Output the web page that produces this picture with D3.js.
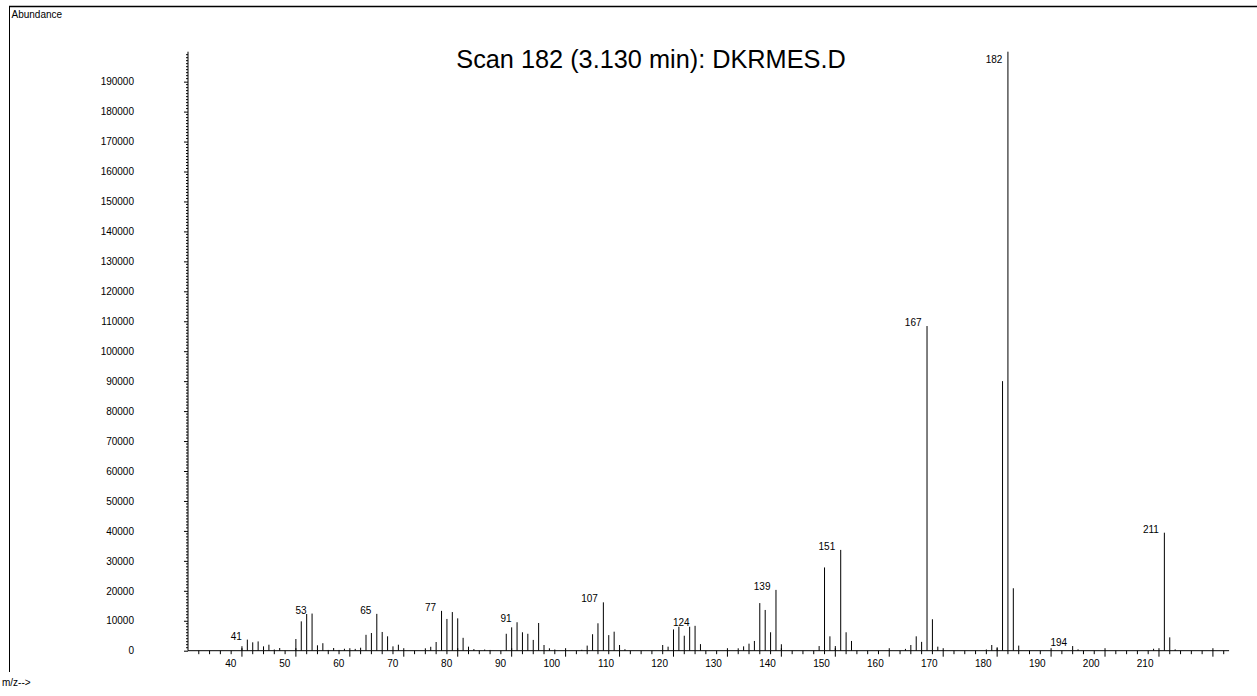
<!DOCTYPE html>
<html>
<head>
<meta charset="utf-8">
<script src="https://cdn.jsdelivr.net/npm/d3@7"></script>
<style>
  html, body { margin: 0; padding: 0; background: #fff; }
  svg { display: block; }
  text { font-family: Arial, "Liberation Sans", sans-serif; fill: #000; }
</style>
</head>
<body>
<svg id="chart" width="1257" height="696"></svg>
<script>
// Mass spectrum, scan 182 (3.130 min) of DKRMES.D
const mz = [40, 41, 42, 43, 44, 45, 46, 47, 50, 51, 52, 53, 54, 55, 56, 57, 58, 59, 61, 62,
  63, 64, 65, 66, 67, 68, 69, 74, 75, 76, 77, 78, 79, 80, 81, 82, 83, 85, 86,
  89, 90, 91, 92, 93, 94, 95, 96, 97, 98, 103, 104, 105, 106, 107, 108, 109, 110, 111,
  118, 119, 120, 121, 122, 123, 124, 125, 132, 133, 134, 135, 136, 137, 138, 139, 140,
  147, 148, 149, 150, 151, 152, 153, 163, 164, 165, 166, 167, 168, 169,
  178, 179, 180, 181, 182, 183, 184, 194, 195, 209, 211, 212, 213];
const abundance = [1500, 3700, 2800, 3100, 1450, 2000, 400, 900, 3900, 9800, 12250, 12400, 1800, 2500, 250, 900, 250, 650, 600, 1000,
  5300, 5900, 12300, 6250, 4800, 1450, 2000, 800, 1300, 2900, 13300, 10600, 12900, 10800, 4300, 1350, 550, 400, 250,
  5650, 7800, 9500, 6150, 5650, 3600, 9250, 1900, 800, 400, 300, 1700, 5500, 9150, 16150, 5200, 6350, 1900, 500,
  1900, 1350, 7100, 8000, 5000, 8000, 8300, 2200, 800, 1450, 2350, 3250, 15900, 13600, 6150, 20300, 2150,
  1550, 27800, 4800, 1550, 33650, 6150, 3250, 600, 1900, 4800, 2950, 108400, 10500, 1350,
  400, 1900, 1150, 90000, 200000, 20850, 1700, 1550, 450, 650, 39400, 4450, 450];

// Peaks that carry an m/z label
const labelledPeaks = [41, 53, 65, 77, 91, 107, 124, 139, 151, 167, 182, 194, 211];

// Axis ticks
const xTickLabels = [40, 50, 60, 70, 80, 90, 100, 110, 120, 130, 140, 150, 160, 170, 180, 190, 200, 210];
const xMajorTicks = [40, 50, 60, 70, 80, 90, 100, 110, 120, 130, 140, 150, 160, 170, 180, 190, 200, 210, 220];
const yTickLabels = [0, 10000, 20000, 30000, 40000, 50000, 60000, 70000, 80000, 90000, 100000,
  110000, 120000, 130000, 140000, 150000, 160000, 170000, 180000, 190000];

const titleText = "Scan 182 (3.130 min): DKRMES.D";

const svg = d3.select("#chart");

const x = d3.scaleLinear().domain([30, 223]).range([188, 1229.1]);
const y = d3.scaleLinear().domain([0, 200000]).range([650.7, 51.7]);

// Page frame
svg.append("line").attr("x1", 9).attr("x2", 1257).attr("y1", 6.5).attr("y2", 6.5)
  .attr("stroke", "#000").attr("stroke-width", 1.5);
svg.append("line").attr("x1", 9.5).attr("x2", 9.5).attr("y1", 6).attr("y2", 672)
  .attr("stroke", "#000").attr("stroke-width", 1);

svg.append("text").attr("x", 11.5).attr("y", 18).attr("font-size", 10).text("Abundance");
svg.append("text").attr("x", 2).attr("y", 686).attr("font-size", 10).text("m/z-->");

svg.append("text").attr("x", 651).attr("y", 68).attr("text-anchor", "middle")
  .attr("font-size", 25.3).text(titleText);

// Y axis: labelled ticks every 10000, minor ticks every 1000
const yMinor = d3.range(0, 200001, 1000).filter(v => v % 10000 !== 0);
svg.append("g").selectAll("line").data(yMinor).join("line")
  .attr("x1", x(30) - 2).attr("x2", x(30))
  .attr("y1", d => y(d)).attr("y2", d => y(d))
  .attr("stroke", "#000").attr("stroke-width", 1);

const yAxis = d3.axisLeft(y).tickValues(yTickLabels).tickSize(4).tickPadding(50)
  .tickFormat(d3.format("d"));
const gy = svg.append("g").attr("transform", `translate(${x(30)},0)`).call(yAxis);
gy.select(".domain").remove();
gy.selectAll("text").attr("font-size", 10).attr("font-family", "Arial, 'Liberation Sans', sans-serif");
svg.append("line").attr("x1", x(30)).attr("x2", x(30)).attr("y1", y(200000)).attr("y2", y(0))
  .attr("stroke", "#000").attr("stroke-width", 1);

// X axis: minor ticks every 2 units below the line, major ticks crossing it
const xMinor = d3.range(32, 223, 2).filter(v => v % 10 !== 0);
svg.append("g").selectAll("line").data(xMinor).join("line")
  .attr("x1", d => x(d)).attr("x2", d => x(d))
  .attr("y1", y(0)).attr("y2", y(0) + 3.5)
  .attr("stroke", "#000").attr("stroke-width", 1);
svg.append("g").selectAll("line").data(xMajorTicks).join("line")
  .attr("x1", d => x(d)).attr("x2", d => x(d))
  .attr("y1", y(0) - 2.5).attr("y2", y(0) + 6)
  .attr("stroke", "#000").attr("stroke-width", 1);
svg.append("line").attr("x1", x(30)).attr("x2", x(223)).attr("y1", y(0)).attr("y2", y(0))
  .attr("stroke", "#000").attr("stroke-width", 1);

svg.append("g").selectAll("text").data(xTickLabels).join("text")
  .attr("x", d => x(d) - 5.5).attr("y", y(0) + 16)
  .attr("text-anchor", "end").attr("font-size", 10)
  .text(d => d);

// Spectrum sticks
const peaks = mz.map((m, i) => ({ mz: m, value: abundance[i] }));
svg.append("g").selectAll("line").data(peaks).join("line")
  .attr("x1", d => x(d.mz)).attr("x2", d => x(d.mz))
  .attr("y1", y(0)).attr("y2", d => y(Math.min(d.value, 200000)))
  .attr("stroke", "#000").attr("stroke-width", 1);

// m/z labels beside the main peaks
const labelled = peaks.filter(d => labelledPeaks.includes(d.mz));
svg.append("g").selectAll("text").data(labelled).join("text")
  .attr("x", d => x(d.mz) - 5.5)
  .attr("y", d => Math.max(y(d.value), y(200000) + 11.5))
  .attr("text-anchor", "end").attr("font-size", 10)
  .text(d => d.mz);
</script>
</body>
</html>
